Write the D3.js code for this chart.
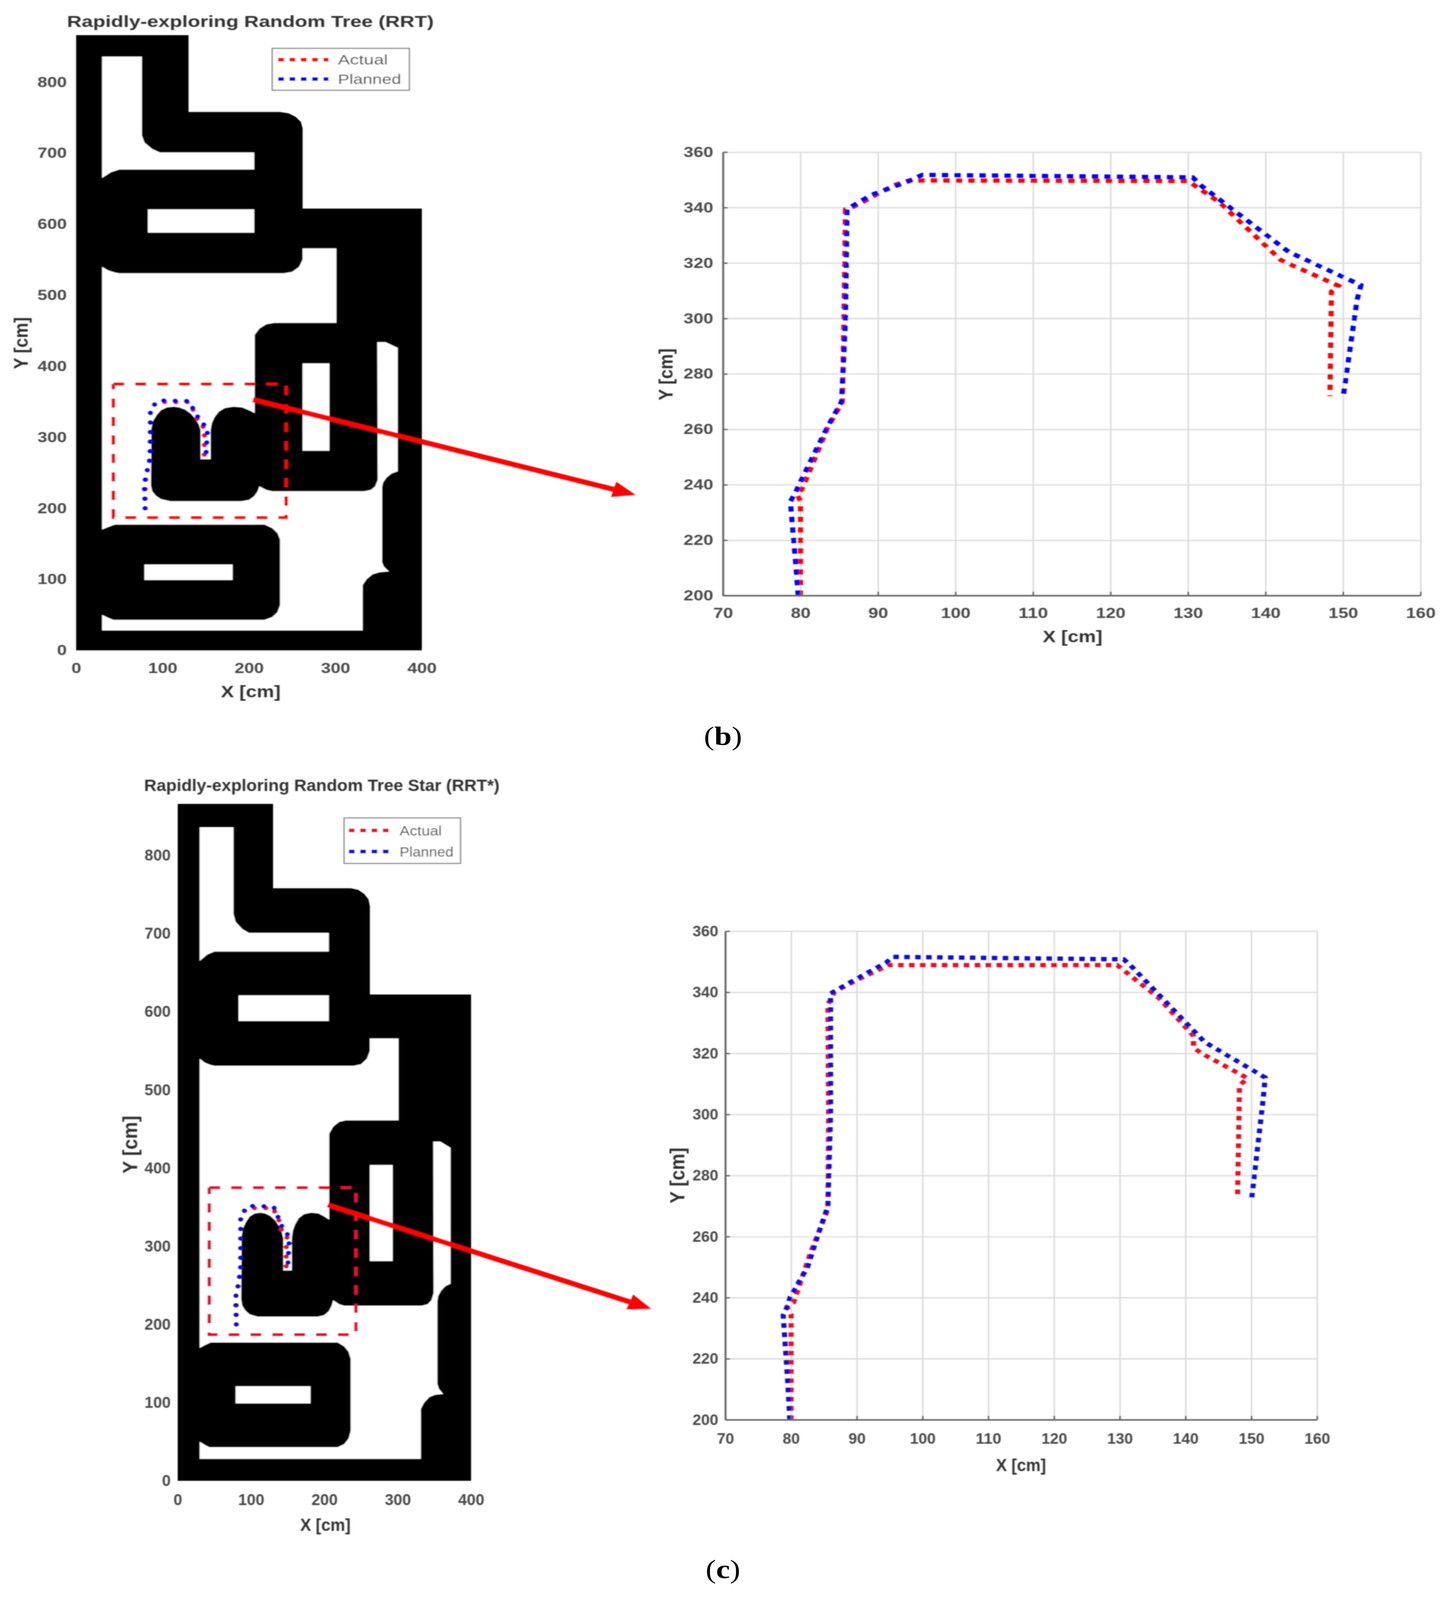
<!DOCTYPE html>
<html>
<head>
<meta charset="utf-8">
<script src="https://cdn.jsdelivr.net/npm/d3@7"></script>
<style>
  html, body { margin: 0; padding: 0; background: #fff; overflow: hidden; }
  svg { display: block; }
  text { font-family: "Liberation Sans", sans-serif; }
</style>
</head>
<body>
<svg id="chart" viewBox="0 0 3702 4859" preserveAspectRatio="none">
  <defs>
    <filter id="soft" filterUnits="userSpaceOnUse" x="0" y="0" width="3702" height="4859">
      <feGaussianBlur stdDeviation="1.4"/>
    </filter>
  </defs>
</svg>
<script>
// map obstacles, all in cm. black outline first, then the free space cut out of it
var mapOutline = [[0,0],[400,0],[400,622],[262,622],[262,735],[260,744],[254,751],[246,756],[236,758],[130,758],[130,866],[0,866]];
var freeTop = [[30,836],[76,836],[76,725],[79,715],[88,706],[97,701],[206,701],[206,677],[50,677],[40,673],[30,665]];
var slotUpper = [[83,621],[206,621],[206,588],[83,588]];
var slotInner = [[262,404],[293,404],[293,281],[262,281]];
var slotLower = [[79,121],[181,121],[181,99],[79,99]];
var freeMain = [[30,540],[37,535],[45,532],[50,531],[240,531],[250,533],[258,540],[262,550],[262,566],[301,566],[301,461],
  [229,461],[220,459],[212,453],[206.5,444],[206.5,334],[200,338],[192,342],[182,343],[172,341],[165,336],[160,328],
  [157,320],[155.5,310],[155.5,269],[144,269],[144,310],[142,318],[138,326],[133,333],[126,339],[119,342],[113,343],
  [105,342],[98,338],[93,331],[89,323],[87,313],[86.5,232],[88,224],[92,218],[98,213],[109,210],[191,210],[200,212],
  [206,217],[210,224],[212,231],[220,226],[227,224],[333,224],[341,226],[346,231],[349,240],[349,245],[348.5,434],
  [358,434],[372,426],[372,252],[365,249],[359,243],[355,236],[354,230],[354,124],[356,118],[362,111],[351,110],[343,107],
  [336,100],[331.5,92],[331.5,28],[30,28],[30,50],[37,46],[43,43],[218,43],[227,47],[233,54],[236,64],[236,156],[233,165],
  [227,172],[218,177],[45,177],[38,174],[30,170]];

var zoomBox = [[43,375],[243,375],[243,187],[43,187],[43,375]];
var arrowFrom = [204.6, 353];   // on the map
var arrowTo = [58.7, 236.4];    // on the zoomed plot

var legendLabels = ["Actual", "Planned"];

var mapXTicks = [0, 100, 200, 300, 400];
var mapYTicks = [0, 100, 200, 300, 400, 500, 600, 700, 800];
var zoomXTicks = [70, 80, 90, 100, 110, 120, 130, 140, 150, 160];
var zoomYTicks = [200, 220, 240, 260, 280, 300, 320, 340, 360];

var actualRRT = [[80,200],[80,234],[79.6,236.5],[80.2,238.5],[83.5,260.5],[85.4,270],[85.6,300],[85.8,339.4],
  [87,340.5],[90,345],[92,348],[94,349.8],[130,349.6],[134,342],[142,321],[149.4,311.8],[148.5,309.7],[148.3,272]];
var plannedRRT = [[79.7,200],[79.4,211],[78.9,227],[78.7,234],[79.4,237.5],[79.8,240],[83.4,260.5],[85.3,270],
  [85.8,300],[86,339.4],[89.1,344.5],[94,349.6],[95.7,351.8],[130.6,350.9],[131.7,347.9],[143,324],[152.3,312],
  [151.8,306.7],[150,271.5]];

var actualStar = [[80,200],[80,234.5],[79.4,237],[80.4,238.5],[83,255],[85.6,269],[85.7,300],[85.6,336],[86.6,340.2],
  [90,344],[94.8,348.9],[129.6,348.9],[136,338],[141.2,325.7],[141.2,322],[142.2,320.3],[149.4,311.9],[148.2,309.5],[147.9,272.5]];
var plannedStar = [[79.8,200],[79.5,212],[79,228],[78.8,234.3],[79.4,237],[79.8,240],[82.5,250],[84,260],[85.6,270],
  [86,300],[86,339.6],[90,344.5],[94.5,349.8],[95.5,351.6],[130.6,350.8],[132,348],[142.9,323.7],[152.1,312.1],
  [151.8,305],[150,271.6]];

// the browser window tops out at 4096 high, so the 4859 tall drawing is fitted into what is there
var root = d3.select("#chart")
  .attr("width", 3702)
  .attr("height", Math.min(window.innerHeight, 4859));
var svg = root;  // the row being drawn, swapped below

function pathOf(x, y) {
  return d3.line().x(function(d) { return x(d[0]); }).y(function(d) { return y(d[1]); });
}

// text squeezed to the measured width, the scanned figure is not evenly scaled
function addText(str, px, py, size, len, opts) {
  opts = opts || {};
  var t = svg.append("text")
    .attr("text-anchor", opts.anchor || "middle")
    .attr("font-size", size)
    .attr("font-weight", opts.weight || "bold")
    .attr("fill", opts.fill || "#333")
    .attr("textLength", len)
    .attr("lengthAdjust", "spacingAndGlyphs")
    .text(str);
  if (opts.rotate) t.attr("transform", "translate(" + px + "," + py + ")rotate(-90)");
  else t.attr("x", px).attr("y", py);
  return t;
}

function styleTicks(g, size, digitW) {
  g.selectAll("text")
    .attr("font-size", size)
    .attr("font-weight", "bold")
    .attr("fill", "#484848")
    .attr("font-family", "Liberation Sans")
    .attr("lengthAdjust", "spacingAndGlyphs")
    .attr("textLength", function() { return this.textContent.length * digitW; });
}

function drawMap(p) {
  var x = d3.scaleLinear().domain([0, 400]).range(p.xr);
  var y = d3.scaleLinear().domain([0, 866]).range(p.yr);
  var line = pathOf(x, y);

  svg.append("path").attr("d", line(mapOutline) + "Z").attr("fill", "#000");
  [freeTop, slotUpper, slotInner, slotLower, freeMain].forEach(function(poly) {
    svg.append("path").attr("d", line(poly) + "Z").attr("fill", "#fff");
  });

  var gx = svg.append("g").attr("transform", "translate(0," + p.yr[0] + ")")
    .call(d3.axisBottom(x).tickValues(mapXTicks).tickSize(0).tickPadding(p.padX));
  var gy = svg.append("g").attr("transform", "translate(" + p.xr[0] + ",0)")
    .call(d3.axisLeft(y).tickValues(mapYTicks).tickSize(0).tickPadding(p.padY));
  gx.select(".domain").remove();
  gy.select(".domain").remove();
  styleTicks(gx, p.tickSize, p.digitW);
  styleTicks(gy, p.tickSize, p.digitW);

  svg.append("path").attr("d", line(zoomBox))
    .attr("fill", "none").attr("stroke", p.red).attr("stroke-width", 9)
    .attr("stroke-dasharray", "28,28");

  // small copies of the paths around the obstacle
  [[p.actual, p.red], [p.planned, p.blue]].forEach(function(s) {
    svg.append("path").attr("d", line(s[0]))
      .attr("fill", "none").attr("stroke", s[1]).attr("stroke-width", 14)
      .attr("stroke-linecap", "round").attr("stroke-dasharray", "0.1,29");
  });

  // legend
  var l = p.legend;
  svg.append("rect").attr("x", l.x).attr("y", l.y).attr("width", l.w).attr("height", l.h)
    .attr("fill", "#fff").attr("stroke", "#777").attr("stroke-width", 3);
  legendLabels.forEach(function(name, i) {
    svg.append("line").attr("x1", l.lineX[0]).attr("x2", l.lineX[1]).attr("y1", l.rows[i]).attr("y2", l.rows[i])
      .attr("stroke", i == 0 ? p.red : p.blue).attr("stroke-width", 11).attr("stroke-dasharray", "15,14");
    addText(name, l.textX, l.rows[i] + l.size * 0.36, l.size, l.lens[i], { anchor: "start", weight: "normal", fill: "#444" });
  });

  addText(p.title, p.titleX, p.titleY, p.titleSize, p.titleLen);
  addText("X [cm]", p.xLabel[0], p.xLabel[1], p.labelSize, p.xLabel[2]);
  addText("Y [cm]", p.yLabel[0], p.yLabel[1], p.labelSize, p.yLabel[2], { rotate: true });
  return { x: x, y: y };
}

function drawZoom(p) {
  var x = d3.scaleLinear().domain([70, 160]).range(p.xr);
  var y = d3.scaleLinear().domain([200, 360]).range(p.yr);
  var line = pathOf(x, y);
  var w = p.xr[1] - p.xr[0], h = p.yr[0] - p.yr[1];

  // grid
  var gridX = svg.append("g").attr("transform", "translate(0," + p.yr[0] + ")")
    .call(d3.axisBottom(x).tickValues(zoomXTicks).tickSize(-h).tickFormat(""));
  var gridY = svg.append("g").attr("transform", "translate(" + p.xr[0] + ",0)")
    .call(d3.axisLeft(y).tickValues(zoomYTicks).tickSize(-w).tickFormat(""));
  [gridX, gridY].forEach(function(g) {
    g.select(".domain").remove();
    g.selectAll("line").attr("stroke", "#dcdcdc").attr("stroke-width", 4);
  });

  [[p.actual, p.red], [p.planned, p.blue]].forEach(function(s) {
    svg.append("path").attr("d", line(s[0]))
      .attr("fill", "none").attr("stroke", s[1]).attr("stroke-width", 13)
      .attr("stroke-dasharray", p.dots);
  });

  var gx = svg.append("g").attr("transform", "translate(0," + p.yr[0] + ")")
    .call(d3.axisBottom(x).tickValues(zoomXTicks).tickSizeInner(-12).tickSizeOuter(0).tickPadding(p.padX));
  var gy = svg.append("g").attr("transform", "translate(" + p.xr[0] + ",0)")
    .call(d3.axisLeft(y).tickValues(zoomYTicks).tickSizeInner(-12).tickSizeOuter(0).tickPadding(p.padY));
  [gx, gy].forEach(function(g) {
    g.select(".domain").attr("stroke", "#666").attr("stroke-width", 5);
    g.selectAll("line").attr("stroke", "#666").attr("stroke-width", 4);
    styleTicks(g, p.tickSize, p.digitW);
  });

  addText("X [cm]", p.xLabel[0], p.xLabel[1], p.labelSize, p.xLabel[2]);
  addText("Y [cm]", p.yLabel[0], p.yLabel[1], p.labelSize, p.yLabel[2], { rotate: true });
  return { x: x, y: y };
}

// thick red arrow from a point on the map to the zoomed plot
function drawArrow(a, b) {
  var x0 = a.x(arrowFrom[0]), y0 = a.y(arrowFrom[1]);
  var x1 = b.x(arrowTo[0]), y1 = b.y(arrowTo[1]);
  var len = Math.hypot(x1 - x0, y1 - y0);
  var ux = (x1 - x0) / len, uy = (y1 - y0) / len;
  var bx = x1 - ux * 58, by = y1 - uy * 58;
  svg.append("line").attr("x1", x0).attr("y1", y0).attr("x2", bx).attr("y2", by)
    .attr("stroke", "#ff0000").attr("stroke-width", 15);
  svg.append("polygon")
    .attr("points", [[x1, y1], [bx - uy * 24, by + ux * 24], [bx + uy * 24, by - ux * 24]].join(" "))
    .attr("fill", "#ff0000");
}

// the source is a blurry scan, so each row gets a slight blur
svg = root.append("g").attr("filter", "url(#soft)");
var mapB = drawMap({
  xr: [195, 1080], yr: [1975, 107], padX: 38, padY: 24, tickSize: 44, digitW: 25,
  red: "#ff0000", blue: "#0000ff", actual: actualRRT, planned: plannedRRT,
  legend: { x: 697, y: 147, w: 351, h: 127, lineX: [712, 841], rows: [181, 240], textX: 865, size: 42, lens: [128, 162] },
  title: "Rapidly-exploring Random Tree (RRT)", titleX: 641, titleY: 82, titleSize: 48, titleLen: 939,
  xLabel: [642, 2117, 153], yLabel: [71, 1042, 158], labelSize: 50
});
var zoomB = drawZoom({
  xr: [1851, 3637], yr: [1809, 462], padX: 37, padY: 25, tickSize: 44, digitW: 25.3,
  red: "#ff0000", blue: "#0000ff", dots: "16,16", actual: actualRRT, planned: plannedRRT,
  xLabel: [2746, 1950, 153], yLabel: [1722, 1137, 158], labelSize: 50
});
drawArrow(mapB, zoomB);

svg = root.append("g").attr("filter", "url(#soft)");
var mapC = drawMap({
  xr: [455, 1206], yr: [4497, 2441], padX: 40, padY: 18, tickSize: 48, digitW: 22.3,
  red: "#ea1030", blue: "#0808d8", actual: actualStar, planned: plannedStar,
  legend: { x: 881, y: 2484, w: 298, h: 138, lineX: [893, 1002], rows: [2522, 2586], textX: 1023, size: 42, lens: [108, 138] },
  title: "Rapidly-exploring Random Tree Star (RRT*)", titleX: 824, titleY: 2402, titleSize: 50, titleLen: 910,
  xLabel: [833, 4649, 129], yLabel: [351, 3476, 176], labelSize: 52
});
var zoomC = drawZoom({
  xr: [1857, 3372], yr: [4312, 2828], padX: 40, padY: 18, tickSize: 46, digitW: 22,
  red: "#ee1020", blue: "#0808d8", dots: "14,14", actual: actualStar, planned: plannedStar,
  xLabel: [2614, 4468, 128], yLabel: [1752, 3570, 170], labelSize: 52
});
drawArrow(mapC, zoomC);

// sub-figure captions
[["b", 2262], ["c", 4793]].forEach(function(c) {
  var t = root.append("text").attr("x", 1851).attr("y", c[1]).attr("text-anchor", "middle")
    .attr("font-size", 80).attr("fill", "#000").style("font-family", "Liberation Serif");
  t.append("tspan").text("(");
  t.append("tspan").attr("font-weight", "bold").text(c[0]);
  t.append("tspan").text(")");
});
</script>
</body>
</html>
